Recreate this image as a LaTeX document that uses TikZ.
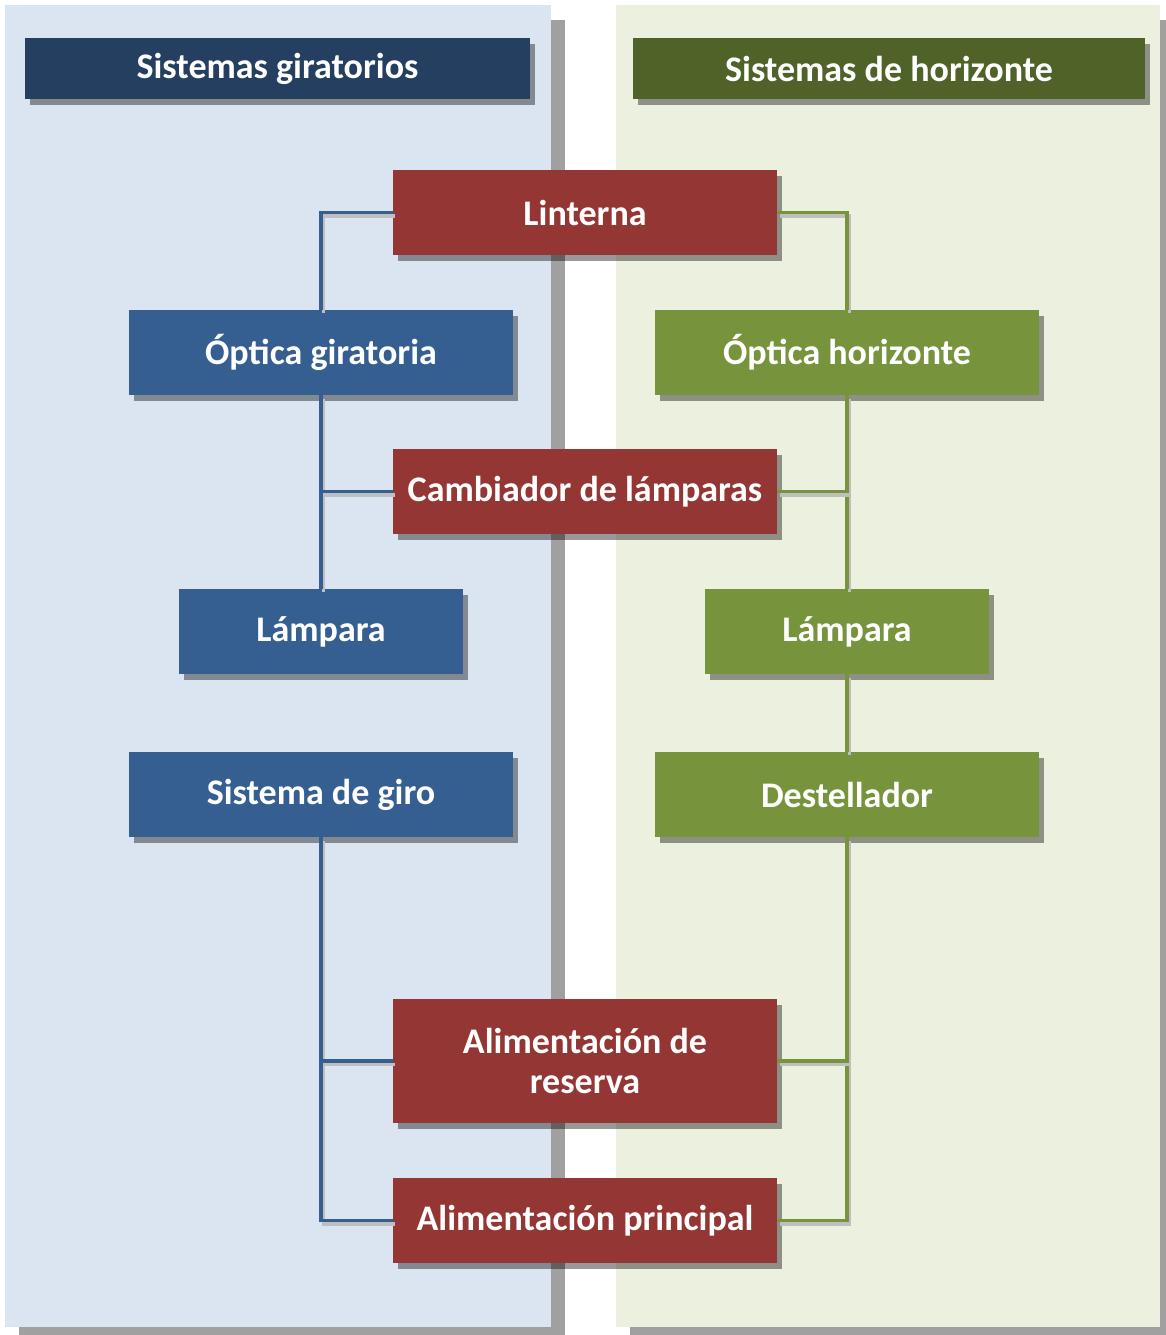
\documentclass[tikz,border=0pt]{standalone}
\usepackage{fontspec}
\setmainfont{Carlito}
\usetikzlibrary{shadows}

\definecolor{panelazul}{HTML}{DBE5F1}
\definecolor{panelverde}{HTML}{EBF1DE}
\definecolor{sombra}{HTML}{A0A0A0}
\definecolor{cabazul}{HTML}{243F60}
\definecolor{cabverde}{HTML}{4F6228}
\definecolor{rojo}{HTML}{943634}
\definecolor{azul}{HTML}{365F91}
\definecolor{verde}{HTML}{77933C}

\tikzset{
  caja/.style={fill=#1, text=white, inner sep=0pt,
    font=\bfseries\fontsize{20.5}{22.5}\selectfont,
    minimum width=7.68cm, minimum height=1.7cm,
    drop shadow={shadow xshift=0.1cm, shadow yshift=-0.12cm, fill=black, opacity=.4}},
  cabecera/.style={caja=#1, minimum height=1.24cm},
  lampbox/.style={caja=#1, minimum width=5.68cm},
  enlace/.style={draw=#1, line width=2.2pt,
    preaction={draw=black!25, line width=2.2pt, transform canvas={shift={(0.05cm,-0.07cm)}}}}
}

\begin{document}
\begin{tikzpicture}[x=0.02cm, y=-0.02cm]
	\useasboundingbox (0,0) rectangle (1166,1335);
	
	% paneles
	\fill[sombra] (19,20) rectangle (565,1342);
	\fill[panelazul] (5,5) rectangle (551,1327);
	\fill[sombra] (630,20) rectangle (1174,1342);
	\fill[panelverde] (616,5) rectangle (1160,1327);
	
	% cabeceras
	\node[cabecera=cabazul, minimum width=10.1cm] (cabg) at (277.5,68.5) {Sistemas giratorios};
	\node[cabecera=cabverde, minimum width=10.24cm] (cabh) at (889,68.5) {Sistemas de horizonte};
	
	% conectores
	\coordinate (ejeg) at (321,0);
	\coordinate (ejeh) at (847,0);
	
	% cajas
	\node[caja=rojo] (linterna) at (585,212.5) {Linterna};
	\node[caja=azul] (optg) at (321,352.5) {Óptica giratoria};
	\node[caja=verde] (opth) at (847,352.5) {Óptica horizonte};
	\node[caja=rojo] (cambiador) at (585,491.5) {Cambiador de lámparas};
	\node[lampbox=azul] (lampg) at (321,631.5) {Lámpara};
	\node[lampbox=verde] (lamph) at (847,631.5) {Lámpara};
	\node[caja=azul] (giro) at (321,794.5) {Sistema de giro};
	\node[caja=verde] (destellador) at (847,794.5) {Destellador};
	\node[caja=rojo, minimum height=2.48cm, align=center] (alimr) at (585,1061) {Alimentación de\\reserva};
	\node[caja=rojo] (alimp) at (585,1220.5) {Alimentación principal};
	
	% lado giratorio
	\draw[enlace=azul] (linterna.west) -| (optg.north);
	\draw[enlace=azul] (optg.south) -- (lampg.north);
	\draw[enlace=azul] (cambiador.west) -- (cambiador.west -| ejeg);
	\draw[enlace=azul] (giro.south) |- (alimp.west);
	\draw[enlace=azul] (alimr.west) -- (alimr.west -| ejeg);
	
	% lado horizonte
	\draw[enlace=verde] (linterna.east) -| (opth.north);
	\draw[enlace=verde] (opth.south) -- (lamph.north);
	\draw[enlace=verde] (cambiador.east) -- (cambiador.east -| ejeh);
	\draw[enlace=verde] (lamph.south) -- (destellador.north);
	\draw[enlace=verde] (destellador.south) |- (alimp.east);
	\draw[enlace=verde] (alimr.east) -- (alimr.east -| ejeh);
\end{tikzpicture}
\end{document}
